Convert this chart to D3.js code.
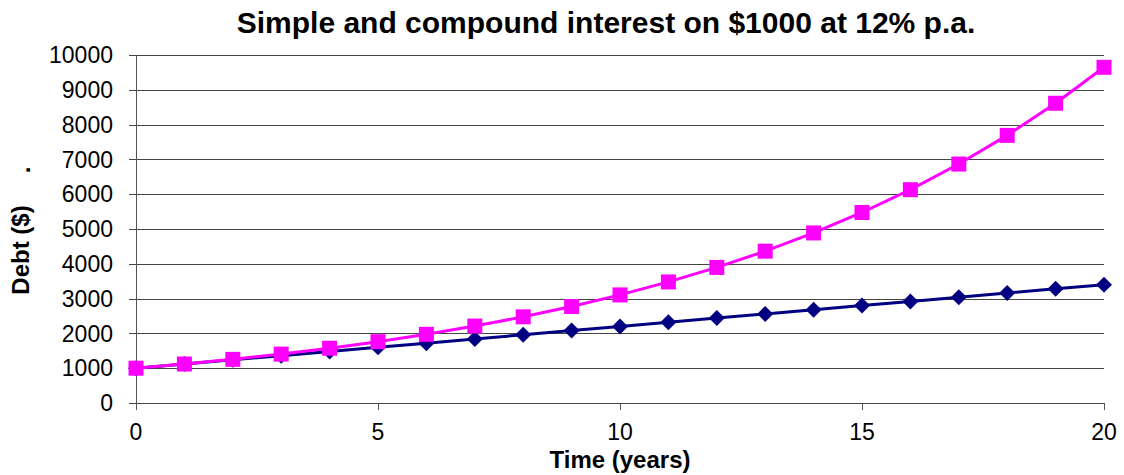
<!DOCTYPE html>
<html>
<head>
<meta charset="utf-8">
<script src="https://cdn.jsdelivr.net/npm/d3@7"></script>
<style>
  html, body { margin: 0; padding: 0; background: #fff; }
  svg { display: block; font-family: Arial, "Liberation Sans", sans-serif; }
</style>
</head>
<body>
<svg id="chart" width="1124" height="475"></svg>
<script>
// Debt over time on $1000 at 12% p.a.
const years = [0,1,2,3,4,5,6,7,8,9,10,11,12,13,14,15,16,17,18,19,20];
const simpleDebt = [1000,1120,1240,1360,1480,1600,1720,1840,1960,2080,2200,2320,2440,2560,2680,2800,2920,3040,3160,3280,3400];
const compoundDebt = [1000,1120,1254,1405,1574,1762,1974,2211,2476,2773,3106,3479,3896,4363,4887,5474,6130,6866,7690,8613,9646];
const yTicks = [0,1000,2000,3000,4000,5000,6000,7000,8000,9000,10000];
const xTicks = [0,5,10,15,20];
const titleText = "Simple and compound interest on $1000 at 12% p.a.";
const xTitle = "Time (years)";
const yTitle = "Debt ($)";

const svg = d3.select("#chart");
const plotLeft = 136, plotRight = 1104, plotTop = 55, plotBottom = 403;

const x = d3.scaleLinear().domain([0, 20]).range([plotLeft, plotRight]);
const y = d3.scaleLinear().domain([0, 10000]).range([plotBottom, plotTop]);

// Horizontal gridlines (extend slightly left of the axis as tick marks)
svg.append("g")
  .selectAll("line")
  .data(yTicks)
  .join("line")
  .attr("x1", plotLeft - 7).attr("x2", plotRight)
  .attr("y1", d => Math.round(y(d)) + 0.5).attr("y2", d => Math.round(y(d)) + 0.5)
  .attr("stroke", "#444").attr("stroke-width", 1);

// Vertical axis line
svg.append("line")
  .attr("x1", plotLeft + 0.5).attr("x2", plotLeft + 0.5)
  .attr("y1", plotTop).attr("y2", plotBottom + 7)
  .attr("stroke", "#555").attr("stroke-width", 1);

// X tick marks
svg.append("g")
  .selectAll("line")
  .data(xTicks)
  .join("line")
  .attr("x1", d => Math.round(x(d)) + 0.5).attr("x2", d => Math.round(x(d)) + 0.5)
  .attr("y1", plotBottom).attr("y2", plotBottom + 7)
  .attr("stroke", "#555").attr("stroke-width", 1);

// Y tick labels
svg.append("g")
  .selectAll("text")
  .data(yTicks)
  .join("text")
  .attr("x", 113)
  .attr("y", d => y(d))
  .attr("dy", "0.36em")
  .attr("text-anchor", "end")
  .attr("font-size", 23)
  .attr("fill", "#000")
  .text(d => d);

// X tick labels
svg.append("g")
  .selectAll("text")
  .data(xTicks)
  .join("text")
  .attr("x", d => x(d))
  .attr("y", 440)
  .attr("text-anchor", "middle")
  .attr("font-size", 23)
  .attr("fill", "#000")
  .text(d => d);

// Title
svg.append("text")
  .attr("x", 606).attr("y", 33)
  .attr("text-anchor", "middle")
  .attr("font-size", 30).attr("font-weight", "bold")
  .text(titleText);

// Axis titles
svg.append("text")
  .attr("x", 620).attr("y", 468)
  .attr("text-anchor", "middle")
  .attr("font-size", 24).attr("font-weight", "bold")
  .text(xTitle);

svg.append("text")
  .attr("transform", "translate(29,250) rotate(-90)")
  .attr("text-anchor", "middle")
  .attr("font-size", 24).attr("font-weight", "bold")
  .text(yTitle);

svg.append("text")
  .attr("transform", "translate(30,170) rotate(-90)")
  .attr("text-anchor", "middle")
  .attr("font-size", 24).attr("font-weight", "bold")
  .text(".");

const line = d3.line().x(d => x(d[0])).y(d => y(d[1]));

// Simple interest: navy line with diamonds
const simplePts = years.map((t, i) => [t, simpleDebt[i]]);
svg.append("path")
  .datum(simplePts)
  .attr("d", line)
  .attr("fill", "none").attr("stroke", "#000080").attr("stroke-width", 3);
svg.append("g")
  .selectAll("path")
  .data(simplePts)
  .join("path")
  .attr("transform", d => `translate(${x(d[0])},${y(d[1])})`)
  .attr("d", "M0,-8L8,0L0,8L-8,0Z")
  .attr("fill", "#000080");

// Compound interest: magenta line with squares
const compoundPts = years.map((t, i) => [t, compoundDebt[i]]);
svg.append("path")
  .datum(compoundPts)
  .attr("d", line)
  .attr("fill", "none").attr("stroke", "#ff00ff").attr("stroke-width", 3);
svg.append("g")
  .selectAll("rect")
  .data(compoundPts)
  .join("rect")
  .attr("x", d => x(d[0]) - 7.5).attr("y", d => y(d[1]) - 7.5)
  .attr("width", 15).attr("height", 15)
  .attr("fill", "#ff00ff");
</script>
</body>
</html>
